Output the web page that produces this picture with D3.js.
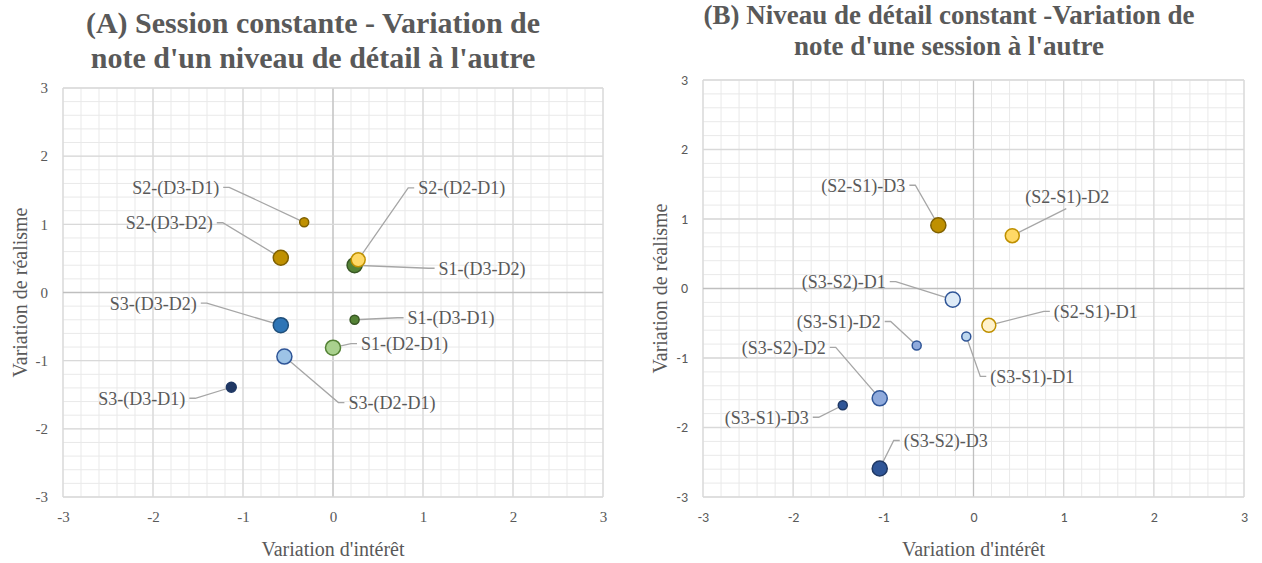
<!DOCTYPE html>
<html>
<head>
<meta charset="utf-8">
<script src="https://cdn.jsdelivr.net/npm/d3@7"></script>
<style>
body { margin: 0; background: #fff; }
svg text { fill: #595959; }
</style>
</head>
<body>
<div class="chart"></div>
<script>
// chart A : session constante
var namesA = ["S2-(D3-D1)", "S2-(D3-D2)", "S1-(D3-D2)", "S2-(D2-D1)", "S3-(D3-D2)",
              "S1-(D3-D1)", "S1-(D2-D1)", "S3-(D2-D1)", "S3-(D3-D1)"];
var interetA = [-0.32, -0.58, 0.24, 0.28, -0.58, 0.24, 0.0, -0.54, -1.13];
var realismeA = [1.03, 0.51, 0.40, 0.48, -0.48, -0.40, -0.81, -0.94, -1.39];
var tailleA = [1, 2.8, 2.8, 2.4, 2.8, 1, 2.8, 2.8, 1.2];

// chart B : niveau de detail constant
var namesB = ["(S2-S1)-D3", "(S2-S1)-D2", "(S3-S2)-D1", "(S2-S1)-D1", "(S3-S1)-D1",
              "(S3-S1)-D2", "(S3-S2)-D2", "(S3-S1)-D3", "(S3-S2)-D3"];
var interetB = [-0.39, 0.43, -0.23, 0.17, -0.08, -0.63, -1.04, -1.45, -1.04];
var realismeB = [0.91, 0.76, -0.16, -0.53, -0.69, -0.82, -1.58, -1.68, -2.59];
var tailleB = [2.8, 2.4, 2.8, 2.4, 1, 1, 2.8, 1, 2.8];

var ticks = [-3, -2, -1, 0, 1, 2, 3];

// colours
var fillA = ["#bf9000", "#bf9000", "#548235", "#ffd966", "#2e75b6", "#548235", "#a9d18e", "#9dc3e6", "#203864"];
var strokeA = ["#7f6000", "#7f6000", "#375623", "#bf9000", "#1f4e79", "#375623", "#548235", "#2f5597", "#1f3864"];
var fillB = ["#bf9000", "#ffd966", "#deebf7", "#fff2cc", "#bdd7ee", "#8faadc", "#8faadc", "#2f5597", "#2f5597"];
var strokeB = ["#7f6000", "#bf9000", "#2f5597", "#bf9000", "#2f5597", "#2f5597", "#2f5597", "#1f3864", "#1f3864"];

// label placement, pixel offset from the bubble centre
var labA = [[-85, -35, "end"], [-68, -35, "end"], [84, 3, "start"], [60, -72, "start"], [-84, -22, "end"],
            [53, -2, "start"], [28, -4, "start"], [64, 46, "start"], [-46, 11, "end"]];
var labB = [[-33, -40, "end"], [55, -39, "middle"], [-67, -18, "end"], [65, -14, "start"], [24, 40, "start"],
            [-36, -24, "end"], [-54, -51, "end"], [-34, 12, "end"], [24, -28, "start"]];

var width = 1262, height = 563;
var svg = d3.select(".chart").append("svg")
    .attr("width", width)
    .attr("height", height);

var serif = "'Liberation Serif', 'Times New Roman', serif";
var sans = "Carlito, 'Liberation Sans', Arial, sans-serif";

function scatter(opt) {
  var x = d3.scaleLinear().domain([-3, 3]).range([opt.left, opt.right]);
  var y = d3.scaleLinear().domain([-3, 3]).range([opt.bottom, opt.top]);
  var r = d3.scaleSqrt().domain([0, 3]).range([0, 7.8]);
  var g = svg.append("g");

  // minor grid
  var minor = d3.range(-3, 3.001, 0.2).map(function(v) { return Math.round(v * 10) / 10; });
  g.selectAll(".vminor").data(minor).enter().append("line")
      .attr("x1", function(d) { return x(d); }).attr("x2", function(d) { return x(d); })
      .attr("y1", opt.top).attr("y2", opt.bottom)
      .attr("stroke", "#e9e9e9").attr("stroke-width", 1);
  g.selectAll(".hminor").data(minor).enter().append("line")
      .attr("y1", function(d) { return y(d); }).attr("y2", function(d) { return y(d); })
      .attr("x1", opt.left).attr("x2", opt.right)
      .attr("stroke", "#e9e9e9").attr("stroke-width", 1);

  // major grid
  g.selectAll(".vmajor").data(ticks).enter().append("line")
      .attr("x1", function(d) { return x(d); }).attr("x2", function(d) { return x(d); })
      .attr("y1", opt.top).attr("y2", opt.bottom)
      .attr("stroke", function(d) { return d === 0 ? "#bfbfbf" : "#d9d9d9"; })
      .attr("stroke-width", 1.3);
  g.selectAll(".hmajor").data(ticks).enter().append("line")
      .attr("y1", function(d) { return y(d); }).attr("y2", function(d) { return y(d); })
      .attr("x1", opt.left).attr("x2", opt.right)
      .attr("stroke", function(d) { return d === 0 ? "#bfbfbf" : "#d9d9d9"; })
      .attr("stroke-width", 1.3);

  // axes (labels only, Excel style)
  var fmt = function(d) { return String(d); };
  var xAxis = g.append("g")
      .attr("transform", "translate(0," + (opt.bottom + 22) + ")")
      .call(d3.axisBottom(x).tickValues(ticks).tickSize(0).tickFormat(fmt));
  var yAxis = g.append("g")
      .attr("transform", "translate(" + (opt.left - 12) + ",0)")
      .call(d3.axisLeft(y).tickValues(ticks).tickSize(0).tickFormat(fmt));
  [xAxis, yAxis].forEach(function(a) {
    a.select(".domain").remove();
    a.selectAll("text")
      .style("font-family", opt.tickFont)
      .style("font-size", opt.tickSize)
      .attr("fill", "#595959");
  });
  xAxis.selectAll("text").attr("dy", "0");

  g.append("text")
      .attr("x", (opt.left + opt.right) / 2)
      .attr("y", opt.bottom + 59)
      .attr("text-anchor", "middle")
      .style("font-family", serif)
      .style("font-size", "20px")
      .text("Variation d'intérêt");
  g.append("text")
      .attr("transform", "translate(" + opt.ytitleX + "," + ((opt.top + opt.bottom) / 2) + ") rotate(-90)")
      .attr("text-anchor", "middle")
      .attr("dy", "0.35em")
      .style("font-family", serif)
      .style("font-size", "20px")
      .text("Variation de réalisme");

  // title
  g.selectAll(".title").data(opt.title).enter().append("text")
      .attr("x", opt.titleX)
      .attr("y", function(d, i) { return opt.titleY + i * opt.titleGap; })
      .attr("text-anchor", "middle")
      .style("font-family", serif)
      .style("font-size", opt.titleSize)
      .style("font-weight", "bold")
      .text(function(d) { return d; });

  var pts = opt.names.map(function(n, i) {
    return { name: n, x: opt.xs[i], y: opt.ys[i], s: opt.size[i],
             fill: opt.fill[i], stroke: opt.stroke[i], lab: opt.lab[i] };
  });

  // leader lines
  g.selectAll(".leader").data(pts).enter().append("path")
      .attr("fill", "none")
      .attr("stroke", "#a6a6a6")
      .attr("stroke-width", 1.3)
      .attr("d", function(d) {
        var px = x(d.x), py = y(d.y);
        var lx = px + d.lab[0], ly = py + d.lab[1];
        if (d.lab[2] === "middle") {
          return "M" + px + "," + py + "L" + (lx - 1) + "," + (ly + 12);
        }
        var s = d.lab[2] === "end" ? 1 : -1;
        return "M" + px + "," + py + "L" + (lx + s * 10) + "," + ly + "L" + (lx + s * 4) + "," + ly;
      });

  g.selectAll(".bubble").data(pts).enter().append("circle")
      .attr("cx", function(d) { return x(d.x); })
      .attr("cy", function(d) { return y(d.y); })
      .attr("r", function(d) { return r(d.s); })
      .attr("fill", function(d) { return d.fill; })
      .attr("stroke", function(d) { return d.stroke; })
      .attr("stroke-width", 1.5);

  g.selectAll(".label").data(pts).enter().append("text")
      .attr("x", function(d) { return x(d.x) + d.lab[0]; })
      .attr("y", function(d) { return y(d.y) + d.lab[1]; })
      .attr("dy", "0.35em")
      .attr("text-anchor", function(d) { return d.lab[2]; })
      .style("font-family", serif)
      .style("font-size", "18px")
      .text(function(d) { return d.name; });
}

scatter({
  left: 63, right: 603, top: 88, bottom: 497, ytitleX: 20,
  titleX: 313, titleY: 33, titleGap: 35, titleSize: "30px",
  tickFont: serif, tickSize: "15px",
  title: ["(A) Session constante - Variation de", "note d'un niveau de détail à l'autre"],
  names: namesA, xs: interetA, ys: realismeA, size: tailleA,
  fill: fillA, stroke: strokeA, lab: labA
});

scatter({
  left: 703, right: 1244, top: 80, bottom: 497, ytitleX: 660,
  titleX: 949, titleY: 24, titleGap: 31, titleSize: "27px",
  tickFont: sans, tickSize: "14px",
  title: ["(B) Niveau de détail constant -Variation de", "note d'une session à l'autre"],
  names: namesB, xs: interetB, ys: realismeB, size: tailleB,
  fill: fillB, stroke: strokeB, lab: labB
});
</script>
</body>
</html>
